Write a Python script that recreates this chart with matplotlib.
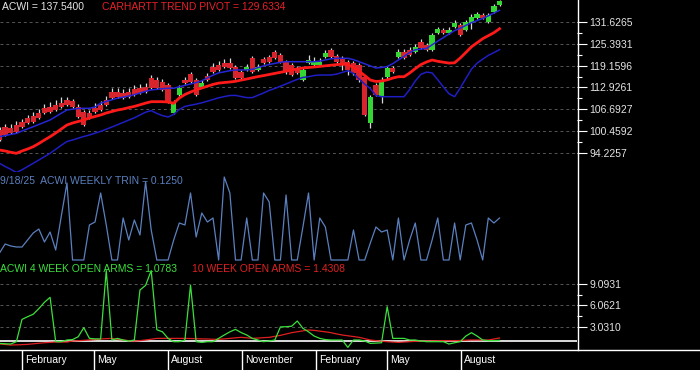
import numpy as np
import pandas as pd
import matplotlib
matplotlib.use('Agg')
import matplotlib.pyplot as plt
import matplotlib.dates as mdates
from matplotlib.lines import Line2D

plt.rcParams['font.family'] = ['Liberation Sans', 'DejaVu Sans']

dates = pd.date_range('2024-01-04', periods=90, freq='7D')

opens = [100.84, 101.70, 101.41, 102.26, 103.12, 104.25, 104.82, 105.68, 107.10, 107.38,
         107.95, 108.52, 109.37, 109.09, 107.38, 105.96, 105.68, 107.10, 107.95, 109.37,
         111.64, 111.64, 111.36, 111.64, 112.50, 112.78, 113.06, 115.62, 115.05, 114.49,
         113.63, 105.68, 110.79, 115.05, 116.76, 115.05, 113.06, 116.19, 118.75, 119.32,
         119.89, 119.89, 118.75, 117.33, 117.90, 121.31, 117.90, 121.02, 121.59, 123.01,
         122.16, 120.17, 119.32, 118.46, 115.05, 119.89, 119.32, 119.32, 121.59, 123.58,
         121.87, 121.31, 120.17, 119.89, 119.32, 115.91, 102.83, 113.63, 110.22, 115.91,
         118.46, 121.59, 123.01, 123.58, 123.01, 125.85, 125.00, 123.58, 128.41, 129.26,
         128.41, 130.12, 130.68, 129.26, 131.25, 132.67, 133.53, 131.54, 134.38, 136.37]
closes = [98.00, 99.42, 99.99, 100.28, 101.70, 102.83, 103.12, 104.25, 105.68, 105.96,
          106.53, 107.38, 107.95, 107.38, 104.54, 102.26, 104.25, 105.96, 106.53, 107.95,
          109.94, 110.22, 109.94, 110.22, 110.79, 111.36, 111.64, 112.78, 112.78, 112.21,
          108.80, 108.52, 112.78, 114.20, 114.49, 110.79, 114.20, 115.05, 117.33, 117.90,
          118.75, 118.46, 115.62, 115.62, 118.75, 117.33, 118.75, 119.89, 120.17, 121.31,
          120.17, 117.33, 116.47, 117.04, 117.90, 120.74, 120.17, 120.17, 122.73, 121.59,
          120.17, 119.32, 117.90, 117.04, 115.05, 105.11, 110.22, 110.79, 115.05, 118.46,
          117.33, 123.01, 121.31, 122.16, 124.43, 124.15, 123.58, 127.84, 129.55, 128.41,
          129.26, 131.25, 127.84, 131.54, 132.96, 133.81, 132.67, 133.53, 136.08, 137.54]
highs = [101.70, 102.55, 102.55, 103.40, 103.97, 105.11, 105.96, 106.81, 108.23, 108.80,
         109.37, 110.22, 110.22, 109.65, 108.23, 106.53, 106.53, 108.52, 109.09, 110.51,
         112.78, 112.78, 112.50, 112.78, 113.63, 113.92, 114.20, 116.47, 115.91, 115.34,
         114.20, 109.37, 113.63, 115.91, 117.33, 115.62, 115.05, 117.04, 119.89, 120.45,
         121.02, 121.31, 119.32, 117.90, 119.60, 121.87, 119.60, 121.59, 122.16, 123.58,
         122.73, 120.74, 119.89, 119.03, 118.46, 122.16, 121.59, 121.31, 123.58, 124.15,
         122.44, 121.87, 120.74, 120.45, 119.89, 116.47, 110.79, 114.20, 115.91, 119.03,
         119.03, 123.86, 123.86, 124.43, 125.29, 126.71, 125.57, 128.41, 130.12, 129.83,
         130.12, 132.11, 131.25, 132.11, 133.81, 134.38, 134.10, 134.10, 136.65, 137.79]
lows = [97.72, 99.14, 99.71, 99.99, 101.41, 102.55, 102.83, 103.97, 105.39, 105.68,
        106.24, 107.10, 107.66, 107.10, 104.25, 101.98, 103.97, 105.68, 106.24, 107.66,
        109.65, 109.94, 109.65, 109.94, 110.51, 111.08, 111.36, 112.50, 112.50, 111.93,
        108.52, 105.39, 110.51, 113.92, 114.20, 110.51, 112.78, 114.77, 117.04, 117.61,
        118.46, 118.18, 115.34, 115.34, 117.61, 117.04, 117.61, 119.60, 119.89, 121.02,
        119.89, 116.76, 116.19, 116.76, 114.77, 119.60, 119.03, 119.03, 121.31, 121.31,
        119.89, 117.90, 116.47, 116.47, 114.49, 104.82, 101.41, 110.51, 108.52, 115.05,
        117.04, 121.31, 121.02, 121.87, 122.73, 123.86, 123.30, 123.30, 128.13, 128.13,
        128.13, 129.83, 127.56, 128.98, 129.55, 132.39, 132.39, 131.25, 134.10, 136.08]

pivot = [95.16, 94.88, 94.51, 94.22, 94.88, 95.44, 96.10, 97.01, 98.00, 98.94,
         99.99, 101.13, 102.26, 102.83, 103.26, 103.69, 104.25, 104.68, 105.11, 105.68,
         106.10, 106.53, 106.81, 107.21, 107.55, 108.01, 108.49, 108.89, 108.89, 108.89,
         108.80, 108.43, 109.94, 110.93, 111.64, 112.24, 112.78, 113.29, 113.80, 114.17,
         114.34, 114.49, 114.68, 115.03, 115.34, 115.68, 116.02, 116.30, 116.62, 116.93,
         117.24, 117.55, 117.90, 118.21, 118.46, 118.61, 118.75, 118.92, 119.09, 119.26,
         119.43, 119.54, 119.43, 118.61, 117.55, 116.33, 115.05, 114.63, 114.77, 115.08,
         115.62, 115.99, 115.99, 117.04, 118.29, 119.43, 120.17, 120.74, 120.37, 120.11,
         119.86, 119.94, 121.31, 122.87, 124.49, 125.63, 126.79, 127.64, 128.50, 129.63]
band_upper = [98.94, 99.25, 99.59, 99.88, 100.56, 101.18, 101.78, 102.41, 103.06, 103.69,
              104.65, 105.62, 106.53, 106.76, 106.95, 107.01, 107.01, 107.38, 108.46, 108.94,
              109.43, 109.88, 110.19, 110.51, 110.88, 111.36, 111.84, 112.24, 112.41, 112.58,
              112.70, 112.70, 113.12, 113.52, 113.92, 114.32, 114.83, 115.62, 116.42, 117.07,
              117.38, 117.70, 117.90, 117.90, 117.90, 118.10, 118.58, 119.06, 119.46, 119.77,
              120.08, 120.26, 120.26, 120.26, 120.26, 120.26, 120.26, 120.43, 120.74, 121.08,
              121.22, 121.22, 121.22, 120.85, 120.26, 119.66, 119.06, 118.46, 118.61, 118.89,
              119.71, 120.74, 121.79, 122.87, 123.64, 123.84, 124.03, 125.06, 126.11, 127.10,
              128.13, 129.09, 129.78, 130.57, 131.34, 131.94, 132.56, 133.30, 134.07, 134.86]
band_lower = [91.38, 90.47, 89.67, 88.77, 89.53, 90.47, 91.38, 92.32, 93.26, 94.22,
              95.36, 96.50, 97.58, 98.00, 98.51, 99.00, 99.42, 99.93, 100.45, 101.07,
              101.70, 102.35, 103.00, 103.66, 104.31, 105.11, 105.90, 106.36, 105.56, 104.94,
              104.54, 105.25, 106.70, 107.55, 107.89, 108.20, 108.57, 109.03, 109.51, 109.99,
              110.34, 110.65, 110.68, 110.36, 110.05, 110.05, 110.71, 111.36, 112.10, 112.64,
              113.29, 113.92, 114.60, 115.22, 115.79, 115.99, 116.33, 116.47, 116.47, 116.47,
              116.73, 117.21, 117.70, 116.93, 115.34, 113.86, 112.64, 110.62, 110.31, 110.31,
              110.31, 110.31, 110.31, 112.35, 114.77, 116.65, 117.30, 117.07, 115.14, 113.09,
              111.16, 110.31, 112.75, 115.45, 118.12, 119.83, 120.97, 122.05, 122.84, 123.69]

trin = [0.225, 0.45, 0.4, 0.375, 0.375, 0.55, 0.725, 0.825, 0.5, 0.75,
        0.3, 1.15, 1.975, 0.05, 0.05, 0.05, 0.925, 1.0, 1.725, 0.925,
        0.05, 0.05, 1.1, 0.55, 1.05, 0.675, 2.0, 0.8, 0.05, 0.05,
        0.05, 0.55, 0.975, 0.925, 1.725, 0.625, 1.225, 1.0, 1.1, 0.05,
        2.125, 1.725, 0.05, 0.05, 1.1, 0.05, 0.05, 1.725, 1.5, 0.05,
        0.05, 1.675, 0.05, 0.05, 0.875, 1.725, 0.05, 1.1, 0.875, 0.05,
        0.05, 0.05, 0.05, 0.8, 0.05, 0.05, 0.475, 0.875, 0.75, 0.8,
        0.05, 1.1, 0.05, 0.55, 0.975, 0.05, 0.05, 0.55, 1.1, 0.05,
        0.05, 0.975, 0.05, 0.925, 0.975, 0.55, 0.05, 1.1, 0.975, 1.1]

arms4 = [0.66, 0.6, 0.57, 0.9, 4.07, 4.45, 4.8, 5.6, 6.5, 7.2,
         0.9, 0.9, 1.14, 1.2, 1.6, 2.89, 1.37, 1.3, 1.28, 11.0,
         1.14, 1.37, 1.14, 0.99, 1.14, 8.24, 8.9, 11.0, 2.6, 2.3,
         1.37, 0.9, 0.9, 1.14, 8.95, 0.9, 0.8, 0.9, 0.9, 1.37,
         1.85, 2.3, 2.65, 2.2, 1.85, 1.37, 1.14, 0.9, 1.0, 1.14,
         3.0, 3.03, 3.1, 3.84, 2.8, 2.3, 1.7, 1.37, 1.2, 1.14,
         1.14, 1.14, 0.09, 1.14, 1.14, 1.0, 0.66, 0.7, 0.75, 5.87,
         1.37, 1.37, 1.37, 1.14, 1.14, 1.0, 0.9, 0.9, 0.9, 0.9,
         0.57, 0.75, 0.9, 1.7, 2.18, 1.7, 1.14, 1.05, 1.05, 1.0783]
arms10 = [0.57, 0.5, 0.43, 0.45, 0.48, 0.52, 0.6, 0.68, 0.75, 0.8,
          0.85, 0.85, 0.85, 0.99, 1.04, 1.09, 1.14, 1.2, 1.28, 1.33,
          1.37, 1.23, 1.15, 1.05, 0.99, 1.05, 1.14, 1.25, 1.37, 1.37,
          1.37, 1.37, 1.37, 1.37, 1.35, 1.32, 1.3, 1.28, 1.25, 1.23,
          1.3, 1.37, 1.45, 1.52, 1.45, 1.37, 1.42, 1.47, 1.52, 1.66,
          1.80, 1.99, 2.18, 2.31, 2.44, 2.56, 2.51, 2.4, 2.3, 2.18,
          2.0, 1.85, 1.74, 1.63, 1.52, 1.33, 1.14, 1.05, 0.97, 0.9,
          0.85, 0.8, 0.85, 0.9, 0.95, 0.99, 1.0, 1.01, 1.03, 1.04,
          1.04, 1.04, 1.07, 1.1, 1.14, 1.14, 1.14, 1.14, 1.28, 1.4308]

price_ticks = [94.2257, 100.4592, 106.6927, 112.9261, 119.1596, 125.3931, 131.6265]
arms_ticks = [3.0310, 6.0621, 9.0931]
month_ticks = pd.to_datetime(['2024-02-01', '2024-05-01', '2024-08-01', '2024-11-01',
                              '2025-02-01', '2025-05-01', '2025-08-01'])
month_labels = ['February', 'May', 'August', 'November', 'February', 'May', 'August']

W, H = 700, 370
fig = plt.figure(figsize=(W / 100, H / 100), dpi=100, facecolor='black')


def px_axes(x0, y0, x1, y1):
    return fig.add_axes([x0 / W, 1 - y1 / H, (x1 - x0) / W, (y1 - y0) / H])


ax1 = px_axes(0, 0, 577, 172)
ax2 = px_axes(0, 172, 577, 262)
ax3 = px_axes(0, 262, 577, 350)
axm = px_axes(0, 350, 577, 370)

xnum = mdates.date2num(dates)
px_per_day = 0.8026
x_left = xnum[0] + 0.6
x_right = x_left + 577 / px_per_day

for ax in (ax1, ax2, ax3, axm):
    ax.set_facecolor('black')
    ax.set_xlim(x_left, x_right)
    for s in ax.spines.values():
        s.set_visible(False)
    ax.set_xticks([])
    ax.set_yticks([])


def style_right(ax, ticks):
    ax.yaxis.tick_right()
    ax.set_yticks(ticks)
    ax.set_yticklabels(['%.4f' % t for t in ticks])
    mids = [(a + b) / 2 for a, b in zip(ticks[:-1], ticks[1:])]
    ax.set_yticks(mids, minor=True)
    ax.tick_params(axis='y', which='major', direction='out', length=7.5, width=0.8,
                   color='white', labelcolor='#e4e4e4', labelsize=7.5, pad=1.5)
    ax.tick_params(axis='y', which='minor', direction='out', length=3.8, width=0.8,
                   color='white')
    ax.grid(axis='y', which='major', color='#555555', linestyle=(0, (3, 3)), linewidth=0.7)
    ax.set_axisbelow(True)


# --- price panel ---
ax1.set_ylim(88.91, 137.79)
style_right(ax1, price_ticks)
o = np.array(opens)
c = np.array(closes)
up = c >= o
body_bottom = np.minimum(o, c)
body_h = np.abs(c - o)
cols = np.where(up, '#33d633', '#d8242c')
ax1.vlines(xnum, lows, highs, color='#d8d8d8', linewidth=0.9, zorder=2)
ax1.bar(xnum, body_h, bottom=body_bottom, width=6.6, color=cols, linewidth=0, zorder=3)
ax1.plot(xnum, band_lower, color='#1e1ec4', linewidth=1.1, zorder=4)
ax1.plot(xnum, pivot, color='#ff1a1a', linewidth=2.0, zorder=5)
ax1.plot(xnum, band_upper, color='#2626d6', linewidth=1.1, zorder=6)

# --- TRIN panel ---
ax2.set_ylim(0, 2.25)
ax2.plot(xnum, trin, color='#5b80bf', linewidth=0.9)

# --- Open Arms panel ---
ax3.set_ylim(-0.28, 12.22)
style_right(ax3, arms_ticks)
ax3.axhline(1.0, color='white', linewidth=1.2, zorder=2)
ax3.plot(xnum, arms10, color='#e02020', linewidth=0.9, zorder=3)
ax3.plot(xnum, arms4, color='#3be03b', linewidth=0.9, zorder=4)

# --- month strip ---
axm.set_ylim(0, 1)
mt = mdates.date2num(month_ticks)
axm.vlines(mt, 0, 1, color='white', linewidth=1.0)
for m, lab in zip(mt, month_labels):
    axm.annotate(lab, (m, 0.5), xytext=(2.2, 0), textcoords='offset points',
                 va='center', ha='left', color='white', fontsize=7.5)

# frame lines
fig.add_artist(Line2D([577.5 / W, 577.5 / W], [1, 1 - 350 / H], color='white',
                      linewidth=1.0, transform=fig.transFigure))
fig.add_artist(Line2D([0, 1], [1 - 350 / H, 1 - 350 / H], color='white',
                      linewidth=1.0, transform=fig.transFigure))


def ftext(x, y, s, color):
    fig.text(x / W, 1 - y / H, s, color=color, fontsize=7.5, va='center', ha='left')


ftext(1.5, 6.5, 'ACWI = 137.5400', '#e6e6e6')
ftext(102, 6.5, 'CARHARTT TREND PIVOT = 129.6334', '#e8202a')
ftext(0.5, 181.5, '9/18/25  ACWI WEEKLY TRIN = 0.1250', '#5b80bf')
ftext(0.5, 268.5, 'ACWI 4 WEEK OPEN ARMS = 1.0783', '#3be03b')
ftext(192, 268.5, '10 WEEK OPEN ARMS = 1.4308', '#e02020')

fig.savefig('out.png', dpi=100, facecolor='black')
